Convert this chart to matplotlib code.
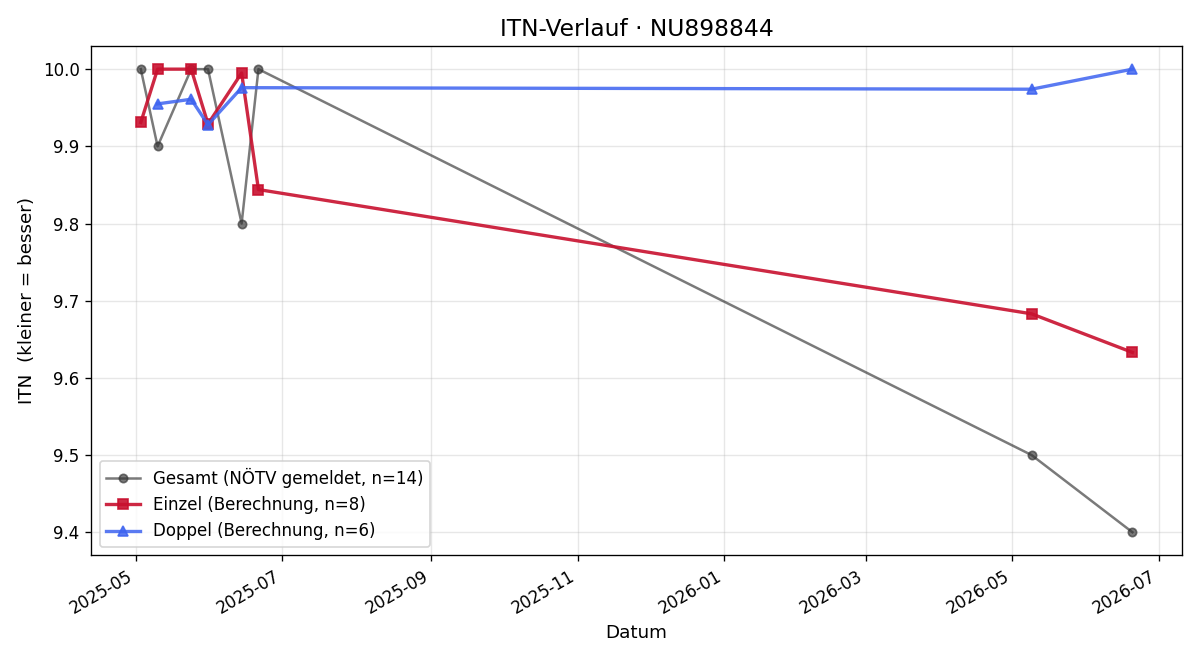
import matplotlib
matplotlib.use("Agg")
import matplotlib.pyplot as plt
import matplotlib.dates as mdates
import pandas as pd

# ------------ Data ------------
gesamt_dates = ["2025-05-03", "2025-05-10", "2025-05-24", "2025-05-31",
                "2025-06-14", "2025-06-21", "2026-05-09", "2026-06-20"]
gesamt_itn = [10.0, 9.9, 10.0, 10.0, 9.8, 10.0, 9.5, 9.4]

einzel_dates = ["2025-05-03", "2025-05-10", "2025-05-24", "2025-05-31",
                "2025-06-14", "2025-06-21", "2026-05-09", "2026-06-20"]
einzel_itn = [9.931, 10.0, 10.0, 9.929, 9.995, 9.844, 9.683, 9.633]

doppel_dates = ["2025-05-10", "2025-05-24", "2025-05-31", "2025-06-14",
                "2026-05-09", "2026-06-20"]
doppel_itn = [9.955, 9.961, 9.928, 9.976, 9.974, 10.0]

# ------------ Plot ------------
fig, ax = plt.subplots(figsize=(10, 5.5), dpi=120)

ax.plot(pd.to_datetime(gesamt_dates), gesamt_itn, marker="o", ms=5, lw=1.5,
        color="#333333", alpha=0.65, label="Gesamt (NÖTV gemeldet, n=14)")
ax.plot(pd.to_datetime(einzel_dates), einzel_itn, marker="s", ms=6, lw=2,
        color="#c8102e", alpha=0.9, label="Einzel (Berechnung, n=8)")
ax.plot(pd.to_datetime(doppel_dates), doppel_itn, marker="^", ms=6, lw=2,
        color="#3d63f0", alpha=0.85, label="Doppel (Berechnung, n=6)")

ax.set_title("ITN-Verlauf · NU898844", fontsize=14)
ax.set_xlabel("Datum", fontsize=11)
ax.set_ylabel("ITN  (kleiner = besser)", fontsize=11)
ax.xaxis.set_major_locator(mdates.MonthLocator(bymonth=[1, 3, 5, 7, 9, 11]))
ax.xaxis.set_major_formatter(mdates.DateFormatter("%Y-%m"))
ax.grid(True, alpha=0.3)
ax.legend(loc="lower left", fontsize=10)
fig.autofmt_xdate()

plt.tight_layout()
plt.savefig("out.png", dpi=120)
